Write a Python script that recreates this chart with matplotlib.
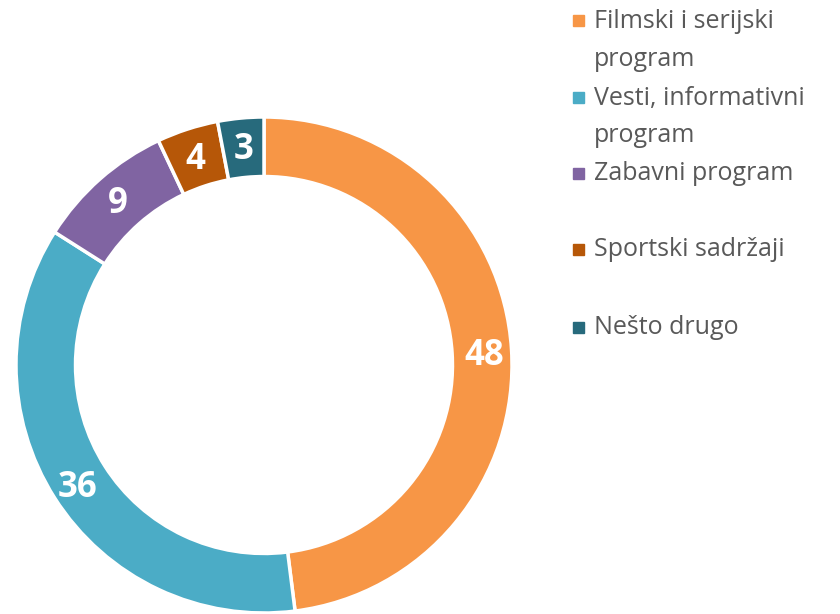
import matplotlib
matplotlib.use("Agg")
import matplotlib.pyplot as plt
import numpy as np

categories = ["Filmski i serijski\nprogram", "Vesti, informativni\nprogram", "Zabavni program",
              "Sportski sadržaji", "Nešto drugo"]
values = [48, 36, 9, 4, 3]
colors = ["#F79646", "#4BACC6", "#8064A2", "#B65708", "#276A7C"]

W, H = 840, 614
fig = plt.figure(figsize=(W / 100, H / 100), dpi=100)
cx, cy, R = 264, 365, 248
ax = fig.add_axes([(cx - R) / W, (H - cy - R) / H, 2 * R / W, 2 * R / H])
width = 0.24
wedges, _ = ax.pie(values, colors=colors, startangle=90, counterclock=False, radius=1,
                   wedgeprops=dict(width=width, edgecolor="white", linewidth=2.5))
total = sum(values)
cum = 0
for v in values:
    mid = 90 - (cum + v / 2) / total * 360
    cum += v
    r = 0.89
    ax.text(r * np.cos(np.radians(mid)), r * np.sin(np.radians(mid)) - 0.02, str(v),
            ha="center", va="center", color="white", fontsize=25, fontweight="bold",
            family="Open Sans")
ax.set_xlim(-1, 1)
ax.set_ylim(-1, 1)
ax.set_aspect("equal")
ax.axis("off")

ys = [21, 98, 174, 250, 328]
for lab, col, y in zip(categories, colors, ys):
    fig.patches.append(plt.Rectangle((573 / W, 1 - (y + 5) / H), 11 / W, 11 / H,
                                     transform=fig.transFigure, color=col))
    lines = lab.split("\n")
    for i, ln in enumerate(lines):
        fig.text(594 / W, 1 - (y + 38 * i) / H, ln, ha="left", va="center",
                 color="#595959", fontsize=18, family="Open Sans")

fig.savefig("out.png", dpi=100)
